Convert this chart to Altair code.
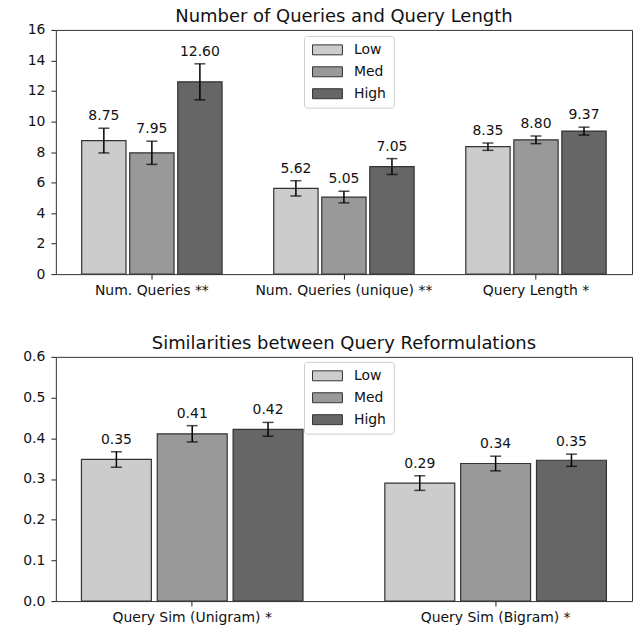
import altair as alt
import pandas as pd

levels = ["Low", "Med", "High"]
colors = ["#cccccc", "#999999", "#666666"]

top_categories = ["Num. Queries **", "Num. Queries (unique) **", "Query Length *"]
top_low = [8.75, 5.62, 8.35]
top_med = [7.95, 5.05, 8.80]
top_high = [12.60, 7.05, 9.37]
top_low_err = [0.81, 0.50, 0.24]
top_med_err = [0.76, 0.38, 0.25]
top_high_err = [1.18, 0.52, 0.26]
top_ticks = [0, 2, 4, 6, 8, 10, 12, 14, 16]

bot_categories = ["Query Sim (Unigram) *", "Query Sim (Bigram) *"]
bot_low = [0.348, 0.290]
bot_med = [0.411, 0.338]
bot_high = [0.422, 0.346]
bot_low_err = [0.019, 0.018]
bot_med_err = [0.020, 0.018]
bot_high_err = [0.017, 0.015]
bot_ticks = [0.0, 0.1, 0.2, 0.3, 0.4, 0.5, 0.6]

FONT = "DejaVu Sans"
FS = 14
BOX = "M-3,-1L3,-1L3,1L-3,1Z"


def make_df(cats, lows, meds, highs, le, me, he):
    rows = []
    for i, c in enumerate(cats):
        for lvl, vals, errs in (("Low", lows, le), ("Med", meds, me), ("High", highs, he)):
            rows.append({"cat": c, "level": lvl, "value": vals[i], "err": errs[i]})
    return pd.DataFrame(rows)


def panel(df, cats, ydom, ticks, yfmt, title, xpi, opi, opo, lx, ly):
    yscale = alt.Scale(domain=ydom, nice=False, zero=True)
    yaxis = alt.Axis(values=ticks, format=yfmt, labelPadding=6, title=None,
                     minExtent=47, maxExtent=47)
    base = alt.Chart(df).transform_calculate(
        lo="datum.value - datum.err", hi="datum.value + datum.err"
    ).encode(
        x=alt.X("cat:N", sort=cats, title=None,
                scale=alt.Scale(paddingInner=xpi, paddingOuter=0),
                axis=alt.Axis(labelAngle=0, labelPadding=4)),
        xOffset=alt.XOffset("level:N", sort=levels,
                            scale=alt.Scale(domain=levels, paddingInner=opi, paddingOuter=opo)),
    )
    bars = base.mark_bar(stroke="#333333", strokeWidth=1.2).encode(
        y=alt.Y("value:Q", title=None, scale=yscale, axis=yaxis),
        color=alt.Color("level:N", sort=levels,
                        scale=alt.Scale(domain=levels, range=colors),
                        legend=alt.Legend(title=None, orient="none", legendX=lx, legendY=ly,
                                          symbolType=BOX, symbolSize=100, symbolOffset=9.5,
                                          symbolStrokeColor="#333333", symbolStrokeWidth=1,
                                          symbolOpacity=1, labelFontSize=FS, labelFont=FONT,
                                          labelColor="#111111", labelOffset=19.5,
                                          rowPadding=8, padding=7, fillColor="white",
                                          strokeColor="#cccccc", cornerRadius=3)),
    )
    rule = base.mark_rule(color="black", strokeWidth=1.5).encode(
        y=alt.Y("lo:Q", title=None, axis=yaxis, scale=yscale), y2="hi:Q"
    )
    cap_hi = base.mark_tick(color="black", thickness=1.5, size=11, orient="horizontal").encode(
        y=alt.Y("hi:Q", title=None, axis=yaxis, scale=yscale)
    )
    cap_lo = base.mark_tick(color="black", thickness=1.5, size=11, orient="horizontal").encode(
        y=alt.Y("lo:Q", title=None, axis=yaxis, scale=yscale)
    )
    text = base.mark_text(dy=-5, baseline="bottom", fontSize=FS, font=FONT, color="#111111").encode(
        y=alt.Y("hi:Q", title=None, axis=yaxis, scale=yscale),
        text=alt.Text("value:Q", format=".2f")
    )
    return alt.layer(bars, rule, cap_hi, cap_lo, text).properties(
        width=578, height=245,
        title=alt.TitleParams(title, fontSize=18, font=FONT, fontWeight="normal",
                              color="#111111", offset=-3, anchor="middle", frame="group"),
    )


top_df = make_df(top_categories, top_low, top_med, top_high, top_low_err, top_med_err, top_high_err)
bot_df = make_df(bot_categories, bot_low, bot_med, bot_high, bot_low_err, bot_med_err, bot_high_err)

top = panel(top_df, top_categories, [0, 16], top_ticks, "d",
            "Number of Queries and Query Length", 0.0, 0.077, 0.538, 249, 6)
bot = panel(bot_df, bot_categories, [0, 0.6], bot_ticks, ".1f",
            "Similarities between Query Reformulations", 0.101, 0.078, 0.3375, 249, 5)

chart = alt.vconcat(top, bot, spacing=36).resolve_scale(
    color="independent", x="independent", xOffset="independent"
).resolve_legend(color="independent").properties(
    padding={"left": 0, "top": -2, "right": 1, "bottom": 0}
).configure_view(
    stroke="#333333", strokeWidth=1
).configure_axis(
    domain=False, grid=False, tickColor="#222222", tickSize=5, tickWidth=1,
    labelFont=FONT, labelFontSize=FS, labelColor="#111111"
)

chart.save("out.html", embed_options={"renderer": "svg", "actions": False})
